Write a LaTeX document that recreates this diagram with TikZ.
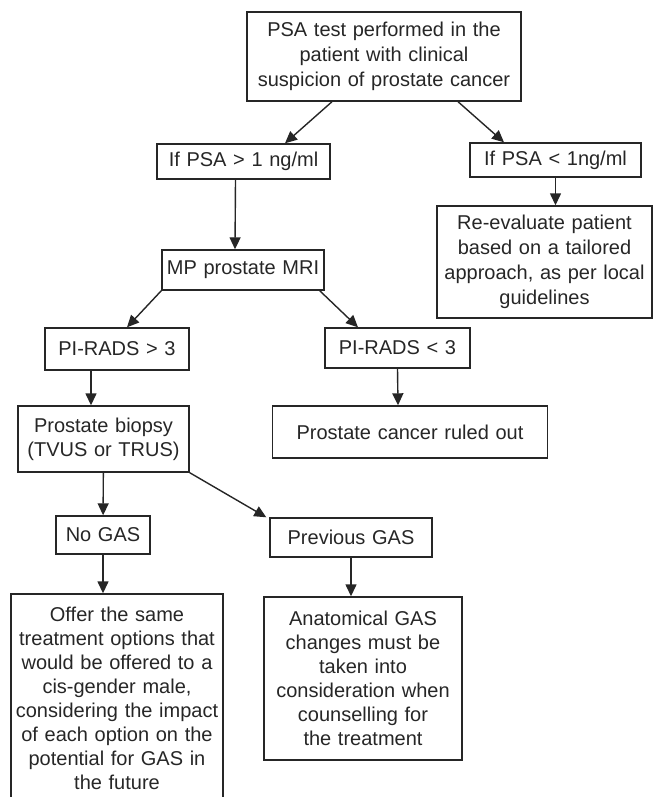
\documentclass[tikz,border=0pt]{standalone}
\usepackage{fontspec}
\setmainfont{Liberation Sans}
\usetikzlibrary{arrows.meta}
\definecolor{inkgrey}{HTML}{262626}

\begin{document}
\begin{tikzpicture}[x=0.5pt, y=-0.5pt,
    box/.style={draw=inkgrey, line width=0.7pt, text=inkgrey, inner sep=0pt, align=center,
        font=\fontsize{10}{12}\selectfont},
    arr/.style={draw=inkgrey, line width=0.7pt, -{Triangle[length=6pt,width=5.5pt]}}]
    \useasboundingbox (0,0) rectangle (653,797);
    % top of the chart
    \node[box, text width=137pt, minimum height=44.5pt, font=\fontsize{10}{12.5}\selectfont] (psa) at (384,56.5)
        {PSA test performed in the\\ patient with clinical\\ suspicion of prostate cancer};
    \node[box, text width=86.5pt, minimum height=17.5pt] (high) at (243.5,161.5) {If PSA > 1 ng/ml};
    \node[box, text width=85.5pt, minimum height=17pt] (low) at (555.5,160) {If PSA < 1ng/ml};
    \node[box, text width=107.5pt, minimum height=56pt, font=\fontsize{10}{12.5}\selectfont] (reeval) at (544.5,262)
        {Re-evaluate patient\\ based on a tailored\\ approach, as per local\\ guidelines};
    % MRI branch
    \node[box, text width=81pt, minimum height=20pt] (mri) at (243,270) {MP prostate MRI};
    \node[box, text width=72pt, minimum height=21pt] (piup) at (117,349) {PI-RADS > 3};
    \node[box, text width=72.5pt, minimum height=20pt] (pidown) at (397.5,348) {PI-RADS < 3};
    \node[box, text width=85.5pt, minimum height=33pt] (biopsy) at (103.5,439)
        {Prostate biopsy\\ (TVUS or TRUS)};
    \node[box, text width=137.5pt, minimum height=26pt] (ruled) at (410,432) {Prostate cancer ruled out};
    % GAS branch
    \node[box, text width=47pt, minimum height=19pt] (nogas) at (103,535) {No GAS};
    \node[box, text width=81pt, minimum height=19.5pt] (prevgas) at (351,537.5) {Previous GAS};
    \node[box, text width=106pt, minimum height=104pt] (offer) at (117,698)
        {Offer the same\\ treatment options that\\ would be offered to a\\ cis-gender male,\\
         considering the impact\\ of each option on the\\ potential for GAS in\\ the future};
    \node[box, text width=99pt, minimum height=81.5pt] (anat) at (363,678.5)
        {Anatomical GAS\\ changes must be\\ taken into\\ consideration when\\ counselling for\\ the treatment};

    \draw[arr] ([xshift=-26pt]psa.south) -- ([xshift=20.75pt]high.north);
    \draw[arr] ([xshift=37pt]psa.south) -- ([xshift=-25.75pt]low.north);
    \draw[arr] (low) -- (low |- reeval.north);
    \draw[arr] ([xshift=-4pt]high.south) -- ([xshift=-4pt]mri.north);
    \draw[arr] (mri.south west) -- ([xshift=5pt]piup.north);
    \draw[arr] ([xshift=-2.5pt]mri.south east) -- ([xshift=-19.75pt]pidown.north);
    \draw[arr] ([xshift=-13pt]piup.south) -- ([xshift=-6.25pt]biopsy.north);
    \draw[arr] (pidown.south) -- ([xshift=-6pt]ruled.north);
    \draw[arr] (biopsy) -- (nogas);
    \draw[arr] (biopsy.south east) -- ([xshift=-1.5pt]prevgas.north west);
    \draw[arr] (nogas) -- (nogas |- offer.north);
    \draw[arr] (prevgas) -- (prevgas |- anat.north);
\end{tikzpicture}
\end{document}
